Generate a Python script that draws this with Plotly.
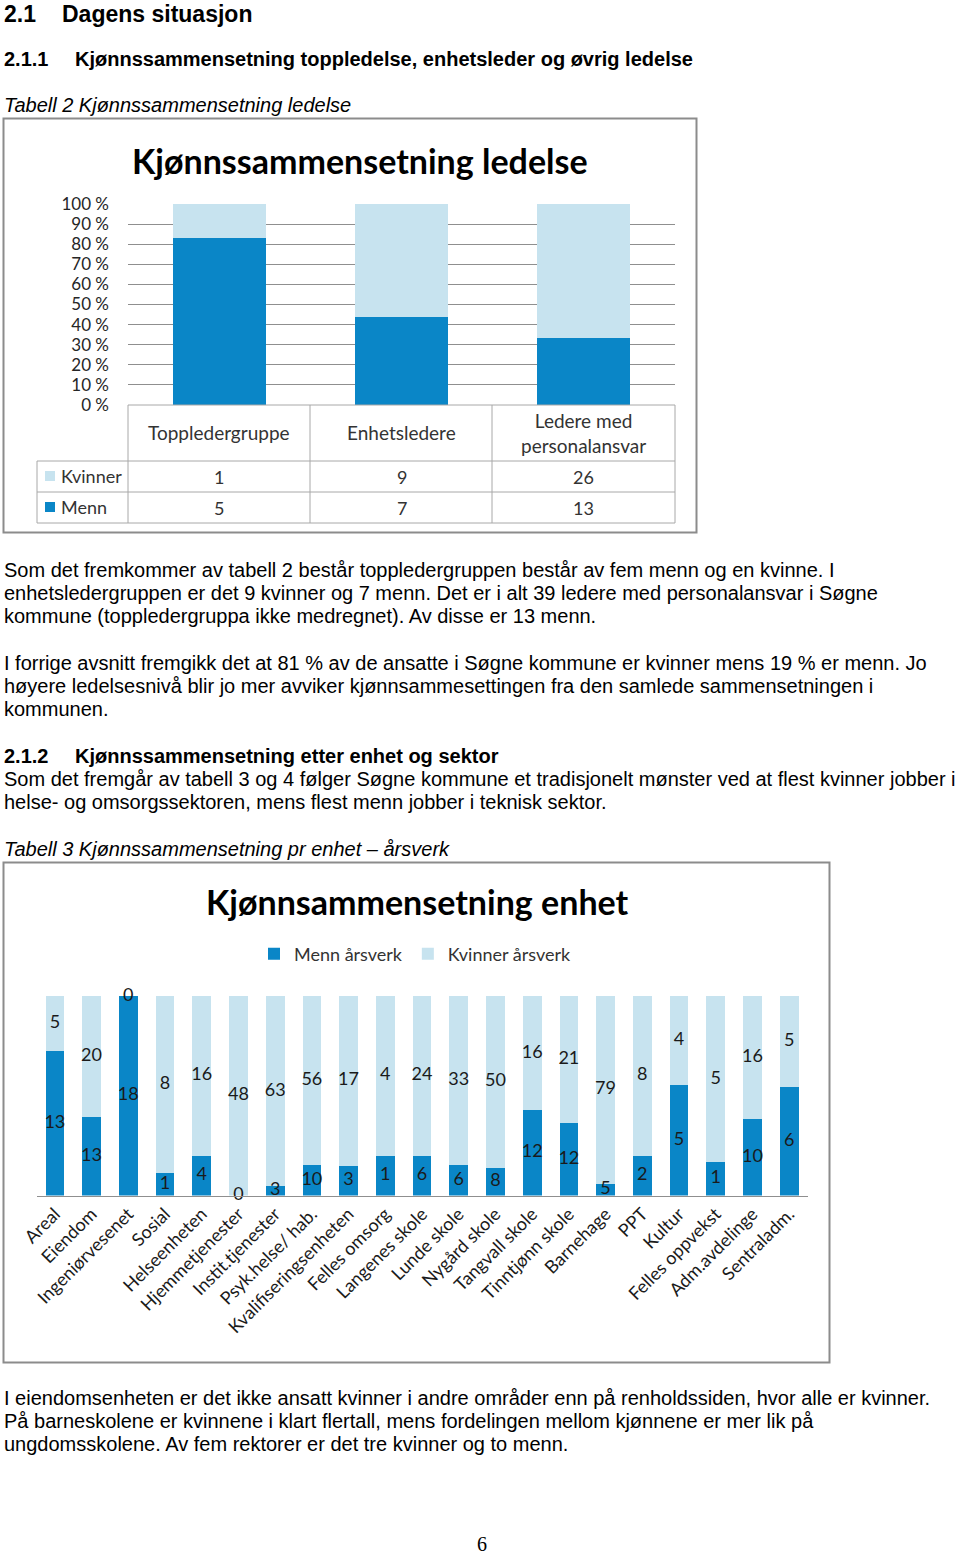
import plotly.graph_objects as go

W, H = 960, 1556
def px(x): return x / W
def py(y): return 1 - y / H

# ---------------- data ----------------
cats1 = ["Toppledergruppe", "Enhetsledere", "Ledere med personalansvar"]
cat_labels1 = ["Toppledergruppe", "Enhetsledere", "Ledere med<br>personalansvar"]
kvinner1 = [1, 9, 26]
menn1 = [5, 7, 13]
pct_ticks = [0, 10, 20, 30, 40, 50, 60, 70, 80, 90, 100]
pct_labels = [f"{v} %" for v in pct_ticks]

cats2 = ["Areal", "Eiendom", "Ingeniørvesenet", "Sosial", "Helseenheten",
         "Hjemmetjenester", "Instit.tjenester", "Psyk.helse/ hab.",
         "Kvalifiseringsenheten", "Felles omsorg", "Langenes skole",
         "Lunde skole", "Nygård skole", "Tangvall skole", "Tinntjønn skole",
         "Barnehage", "PPT", "Kultur", "Felles oppvekst", "Adm.avdelinge",
         "Sentraladm."]
menn2 = [13, 13, 18, 1, 4, 0, 3, 10, 3, 1, 6, 6, 8, 12, 12, 5, 2, 5, 1, 10, 6]
kvinner2 = [5, 20, 0, 8, 16, 48, 63, 56, 17, 4, 24, 33, 50, 16, 21, 79, 8, 4, 5, 16, 5]

DARK = "#0a86c7"
LIGHT = "#c7e3ef"
GRID = "#8f8f8f"
TBL = "#a8a8a8"
CFONT = "Lato"
BFONT = "Liberation Sans, Arial"

fig = go.Figure()

# ---------------- chart 1 ----------------
fig.add_trace(go.Bar(x=cats1, y=menn1, marker_color=DARK, name="Menn",
                     showlegend=False, xaxis="x", yaxis="y", hoverinfo="skip"))
fig.add_trace(go.Bar(x=cats1, y=kvinner1, marker_color=LIGHT, name="Kvinner",
                     showlegend=False, xaxis="x", yaxis="y", hoverinfo="skip"))

# ---------------- chart 2 ----------------
fig.add_trace(go.Bar(x=cats2, y=menn2, marker_color=DARK, name="Menn årsverk",
                     xaxis="x2", yaxis="y2", hoverinfo="skip"))
fig.add_trace(go.Bar(x=cats2, y=kvinner2, marker_color=LIGHT, name="Kvinner årsverk",
                     xaxis="x2", yaxis="y2", hoverinfo="skip"))

# data labels centred in each segment (percent-stacked)
pm = [m / (m + k) * 100 for m, k in zip(menn2, kvinner2)]
fig.add_trace(go.Scatter(x=cats2, y=[p / 2 for p in pm], text=[str(v) for v in menn2],
                         mode="text", textfont=dict(family=CFONT, size=18, color="#1a1a1a"),
                         xaxis="x2", yaxis="y2", showlegend=False, cliponaxis=False,
                         hoverinfo="skip"))
fig.add_trace(go.Scatter(x=cats2, y=[p + (100 - p) / 2 for p in pm], text=[str(v) for v in kvinner2],
                         mode="text", textfont=dict(family=CFONT, size=18, color="#1a1a1a"),
                         xaxis="x2", yaxis="y2", showlegend=False, cliponaxis=False,
                         hoverinfo="skip"))

shapes = []
ann = []

def line(x0, y0, x1, y1, color=TBL, w=1):
    shapes.append(dict(type="line", xref="paper", yref="paper",
                       x0=px(x0), y0=py(y0), x1=px(x1), y1=py(y1),
                       line=dict(color=color, width=w)))

def text(x, y, s, size=20, bold=False, italic=False, family=BFONT, anchor="left",
         color="black", yanchor="middle"):
    if bold:
        s = "<b>" + s + "</b>"
    if italic:
        s = "<i>" + s + "</i>"
    ann.append(dict(x=px(x), y=py(y), xref="paper", yref="paper",
                    text=s, showarrow=False, xanchor=anchor, yanchor=yanchor,
                    borderpad=0,
                    font=dict(family=family, size=size, color=color)))

# chart borders
shapes.append(dict(type="rect", xref="paper", yref="paper", x0=px(3.5), x1=px(696.5),
                   y0=py(118.5), y1=py(532.5), line=dict(color="#8c8c8c", width=2)))
shapes.append(dict(type="rect", xref="paper", yref="paper", x0=px(3.5), x1=px(829.5),
                   y0=py(862.5), y1=py(1362.5), line=dict(color="#8c8c8c", width=2)))

# chart 1 table
line(128, 405, 675, 405)
line(37, 461, 675, 461)
line(37, 492, 675, 492)
line(37, 523, 675, 523)
line(37, 461, 37, 523)
for xv in [128, 310, 492, 675]:
    line(xv, 405, xv, 523)

# table legend keys
shapes.append(dict(type="rect", xref="paper", yref="paper", x0=px(45), x1=px(55),
                   y0=py(471), y1=py(481), fillcolor=LIGHT, line=dict(width=0)))
shapes.append(dict(type="rect", xref="paper", yref="paper", x0=px(45), x1=px(55),
                   y0=py(502), y1=py(512), fillcolor=DARK, line=dict(width=0)))
text(60, 476, "Kvinner", size=18, family=CFONT, color="#333333")
text(60, 507, "Menn", size=18, family=CFONT, color="#333333")

for c, lab, k, m in zip(cats1, cat_labels1, kvinner1, menn1):
    ann.append(dict(x=c, y=py(433), xref="x", yref="paper", text=lab, showarrow=False,
                    xanchor="center", yanchor="middle",
                    font=dict(family=CFONT, size=19, color="#333333")))
    ann.append(dict(x=c, y=py(477), xref="x", yref="paper", text=str(k), showarrow=False,
                    xanchor="center", yanchor="middle",
                    font=dict(family=CFONT, size=18, color="#333333")))
    ann.append(dict(x=c, y=py(508), xref="x", yref="paper", text=str(m), showarrow=False,
                    xanchor="center", yanchor="middle",
                    font=dict(family=CFONT, size=18, color="#333333")))

# chart titles
text(360, 160, "Kjønnssammensetning ledelse", size=34, bold=True, family=CFONT, anchor="center")
text(417, 901, "Kjønnsammensetning enhet", size=34, bold=True, family=CFONT, anchor="center")

# ---------------- document text ----------------
text(3, 0, "2.1", size=23, bold=True, yanchor="top")
text(61, 0, "Dagens situasjon", size=23, bold=True, yanchor="top")
text(3, 59, "2.1.1", size=20, bold=True)
text(74, 59, "Kjønnssammensetning toppledelse, enhetsleder og øvrig ledelse", size=20, bold=True)
text(3, 105, "Tabell 2 Kjønnssammensetning ledelse", size=20, italic=True)

para1 = ["Som det fremkommer av tabell 2 består toppledergruppen består av fem menn og en kvinne. I",
         "enhetsledergruppen er det 9 kvinner og 7 menn. Det er i alt 39 ledere med personalansvar i Søgne",
         "kommune (toppledergruppa ikke medregnet). Av disse er 13 menn."]
for i, s in enumerate(para1):
    text(3, 570 + 23 * i, s)
para2 = ["I forrige avsnitt fremgikk det at 81 % av de ansatte i Søgne kommune er kvinner mens 19 % er menn. Jo",
         "høyere ledelsesnivå blir jo mer avviker kjønnsammesettingen fra den samlede sammensetningen i",
         "kommunen."]
for i, s in enumerate(para2):
    text(3, 663 + 23 * i, s)

text(3, 756, "2.1.2", size=20, bold=True)
text(74, 756, "Kjønnssammensetning etter enhet og sektor", size=20, bold=True)
para3 = ["Som det fremgår av tabell 3 og 4 følger Søgne kommune et tradisjonelt mønster ved at flest kvinner jobber i",
         "helse- og omsorgssektoren, mens flest menn jobber i teknisk sektor."]
for i, s in enumerate(para3):
    text(3, 779 + 23 * i, s)
text(3, 849, "Tabell 3 Kjønnssammensetning pr enhet – årsverk", size=20, italic=True)

para4 = ["I eiendomsenheten er det ikke ansatt kvinner i andre områder enn på renholdssiden, hvor alle er kvinner.",
         "På barneskolene er kvinnene i klart flertall, mens fordelingen mellom kjønnene er mer lik på",
         "ungdomsskolene. Av fem rektorer er det tre kvinner og to menn."]
for i, s in enumerate(para4):
    text(3, 1398 + 23 * i, s)

text(482, 1556, "6", size=20, family="Liberation Serif, DejaVu Serif", anchor="center",
     yanchor="bottom")

fig.update_layout(
    template="none",
    width=W, height=H, margin=dict(l=0, r=0, t=0, b=0, pad=0, autoexpand=False),
    paper_bgcolor="white", plot_bgcolor="white",
    barmode="stack", barnorm="percent", bargap=0.49,
    showlegend=True,
    legend=dict(orientation="h", x=px(254), y=py(954), xanchor="left", yanchor="middle",
                font=dict(family=CFONT, size=18, color="#333333"),
                bgcolor="rgba(0,0,0,0)", traceorder="normal"),
    xaxis=dict(domain=[px(128), px(675)], range=[-0.5, len(cats1) - 0.5],
               showticklabels=False, ticks="", automargin=False,
               showline=False, showgrid=False, zeroline=False, fixedrange=True),
    yaxis=dict(domain=[py(405), py(204)], range=[0, 100], tickmode="array",
               tickvals=pct_ticks, ticktext=pct_labels, automargin=False,
               showgrid=True, gridcolor=GRID, gridwidth=1,
               zeroline=False, showline=False, ticks="", ticklabelstandoff=18,
               tickfont=dict(family=CFONT, size=17, color="#262626")),
    xaxis2=dict(domain=[px(36.5), px(807.5)], range=[-0.5, len(cats2) - 0.5],
                anchor="y2", tickangle=-45, automargin=False,
                showline=True, linecolor=GRID, linewidth=1, ticks="", showgrid=False,
                zeroline=False,
                tickfont=dict(family=CFONT, size=18, color="#1a1a1a")),
    yaxis2=dict(domain=[py(1195.5), py(996)], range=[0, 100], anchor="x2",
                visible=False, showgrid=False, zeroline=False, automargin=False),
    shapes=shapes, annotations=ann,
)

fig.write_html("out.html")
